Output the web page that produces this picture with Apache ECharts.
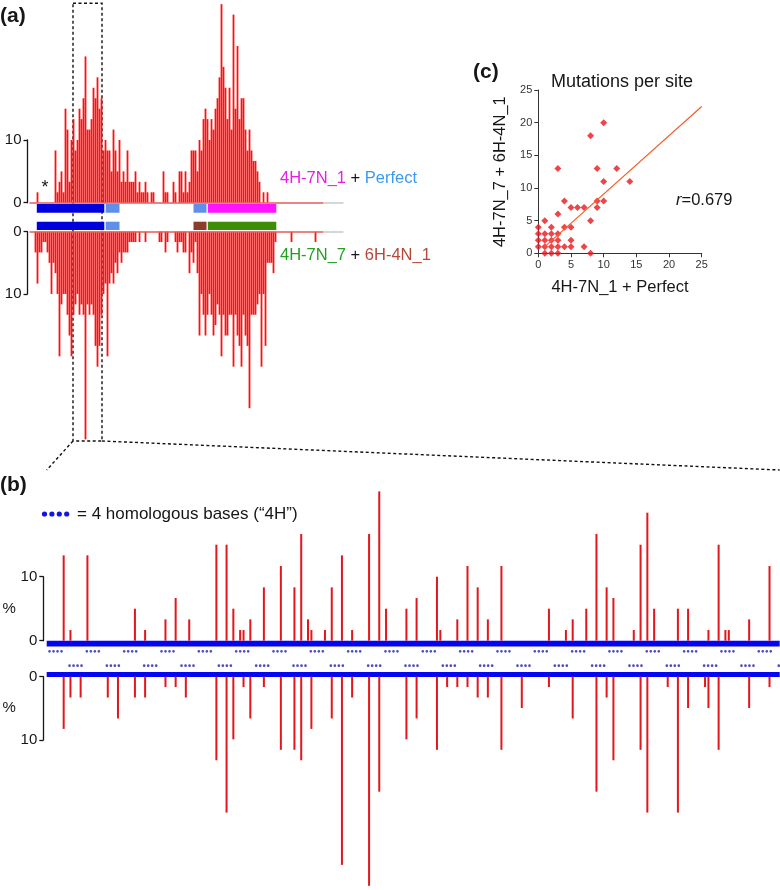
<!DOCTYPE html>
<html><head><meta charset="utf-8">
<script src="https://cdn.jsdelivr.net/npm/echarts@6/dist/echarts.min.js"></script>
<style>html,body{margin:0;padding:0;background:#fff}#c{width:780px;height:890px}</style>
</head><body><div id="c"></div>
<script>
// ---------- DATA ----------
// one mutation = 1/60 of the sequences = 1.667 %
const UNIT = 100 / 60;

// Panel (a): mutation counts per short window (bin) along the whole sequence
const aTopCounts = [0,1,0,0,0,0,0,0,0,0, 5,1,2,3,1,9,7,2,6,8, 5,6,9,8,10,14,7,7,8,11,
  10,12,9,10,5,6,5,5,3,7, 5,3,6,2,3,2,5,2,2,2, 3,1,2,1,1,2,1,0,1,1,
  0,0,0,0,3,1,1,0,0,2, 1,0,3,3,1,3,1,2,5,5, 5,3,6,5,8,9,8,6,8,7,
  9,10,12,19,13,11,8,11,7,18, 9,15,8,10,10,7,5,7,5,4, 4,3,2,0,1,0,1];
const aBotCounts = [2,5,2,2,1,1,2,3,6,3, 4,6,12,7,6,6,8,10,12,8, 7,6,8,7,8,20,7,8,7,8,
  11,13,11,8,6,5,12,5,4,5, 3,4,2,3,2,2,2,1,1,1, 1,0,1,0,0,1,0,0,0,0,
  0,0,1,1,0,2,1,0,0,0, 1,2,1,1,2,2,0,4,2,3, 1,4,10,6,8,10,8,6,8,10,
  9,7,8,12,8,10,10,8,8,13, 8,10,11,13,8,10,11,17,8,8, 8,7,6,13,6,11,3,3,3,4,
  1,0,0,0,0,0,0,0,1,0, 0,0,0,0,0,0,0,0,0,0, 1];
// sequence regions (bin units): start / end
const regionStart = [3.65, 38.1, 82, 89.15];
const regionEnd   = [37.4, 45, 88.5, 123.4];
const regionTopNames = ['4H', 'Perfect', 'Perfect', '4H-7N_1'];
const regionBotNames = ['4H', 'Perfect', '6H-4N_1', '4H-7N_7'];
const aSeqEnd = 147, aAxisEnd = 157;           // end of sequence / drawn axis (bins)
const zoomWindow = [21.75, 36.25];               // window enlarged in (b) (bins)

// Panel (b): per-site mutation counts inside the zoom window
const bTopSite  = [5,7,12,26,29,35,38,42,50,53,55,57,58,60,64,69,73,75,77,78,82,84,87,90,95,98,100,106,109,115,116,121,124,127,130,134,148,153,155,159,162,165,167,173,175,177,179,186,189,195,198,200,201,207,213];
const bTopCount = [8,1,8,3,1,2,4,2,9,9,3,1,1,2,5,7,5,10,2,1,1,5,8,1,10,14,3,3,4,6,1,2,7,5,2,7,3,1,2,3,10,5,4,1,9,12,3,3,3,1,9,1,1,2,7];
const bBotSite  = [5,7,10,18,21,26,29,35,38,41,50,53,55,58,60,64,69,73,75,78,84,87,90,95,98,106,109,115,118,121,124,127,130,134,140,148,155,162,165,167,175,177,183,186,189,194,195,198,207,213];
const bBotCount = [5,2,2,2,4,2,2,1,1,2,8,13,6,1,4,1,7,7,8,5,4,18,2,20,11,6,4,7,1,1,1,2,2,7,3,1,4,11,2,8,7,13,1,13,3,1,3,7,3,1];
const bSites = 216;
// centres of the "4H" homologous-base groups
const topHGroups = [2.6,13.6,24.6,35.6,46.6,57.6,68.6,79.6,90.6,101.6,112.6,123.6,134.6,145.6,156.6,167.6,178.6,189.6,200.6,211.6];
const botHGroups = [8.5,19.5,30.5,41.5,52.5,63.5,74.5,85.5,96.5,107.5,118.5,129.5,140.5,151.5,162.5,173.5,184.5,195.5,206.5,217.5];

// Panel (c): mutations per site
const cX = [10,8,3,9,12,10,14,4,9,10,5,6,7,9,3,1,8,0,2,4,5,0,1,2,3,0,1,2,3,5,0,1,2,3,4,5,7,1,2,3,8];
const cY = [20,18,13,13,13,11,11,8,8,8,7,7,7,7,6,5,5,4,4,4,4,3,3,3,3,2,2,2,2,2,1,1,1,1,1,1,1,0,0,0,0];
const fitSlope = 0.894, fitIntercept = 0.13, fitRange = [1, 25];
const rValue = '0.679';
const pctTicks = [0, 10];
const cTicks = [0, 5, 10, 15, 20, 25];

// ---------- STYLE ----------
const FONT = '"Liberation Sans", Arial, sans-serif';
const INK = '#161616';
const RED_A = '#ff1010';
const RED_B = '#e3161c';
const regionColor = {'4H':'#0000dc','Perfect':'#5f8fe8','4H-7N_1':'#ff14ff','4H-7N_7':'#3f8c06','6H-4N_1':'#8c3b2c'};

const chart = echarts.init(document.getElementById('c'));

const grids = [
  {left:29.5, top:2.06, width:314, height:210.7},
  {left:23.5, top:140, width:4, height:62.7},
  {left:29.5, top:221.7, width:314, height:221.8},
  {left:23.5, top:231.7, width:4, height:62.3},
  {left:46.7, top:487.1, width:733, height:167.68},
  {left:43.3, top:576.7, width:4, height:64},
  {left:46.7, top:664.04, width:733, height:227.88},
  {left:43.3, top:676.7, width:4, height:63.3},
  {left:538.3, top:90, width:163.4, height:163.3}
];

function hiddenX(g, max){ return {gridIndex:g, type:'value', min:0, max:max, show:false}; }
function hiddenY(g, min, max, inv){ return {gridIndex:g, type:'value', min:min, max:max, inverse:!!inv, show:false}; }
function bracket(g, inv){
  return {gridIndex:g, type:'value', min:pctTicks[0], max:pctTicks[1], interval:pctTicks[1]-pctTicks[0], inverse:inv,
    axisLine:{show:true, lineStyle:{color:INK, width:1.3}},
    axisTick:{show:true, length:4, lineStyle:{color:INK, width:1.3}},
    axisLabel:{fontSize:15, color:INK, margin:6, fontFamily:FONT},
    splitLine:{show:false},
    name:'%', nameLocation:'middle', nameGap:7, nameRotate:0,
    nameTextStyle:{fontSize:15, color:INK, fontFamily:FONT}};
}

const xAxes = [hiddenX(0,aAxisEnd), hiddenX(1,1), hiddenX(2,aAxisEnd), hiddenX(3,1),
  hiddenX(4,bSites), hiddenX(5,1), hiddenX(6,bSites), hiddenX(7,1),
  {gridIndex:8, type:'value', min:cTicks[0], max:cTicks[cTicks.length-1], interval:cTicks[1]-cTicks[0],
   axisLine:{show:true, onZero:false, lineStyle:{color:'#333', width:1}},
   axisTick:{show:true, length:4, lineStyle:{color:'#333'}},
   axisLabel:{fontSize:11, color:'#333', margin:6, fontFamily:FONT},
   splitLine:{show:false},
   name:'4H-7N_1 + Perfect', nameLocation:'middle', nameGap:26,
   nameTextStyle:{fontSize:16.5, color:INK, fontFamily:FONT}}];
const yAxes = [hiddenY(0,-1.6,32), bracket(1,false), hiddenY(2,-1.6,34,true), bracket(3,true),
  hiddenY(4,-2.2,24), bracket(5,false), hiddenY(6,-2,34,true), bracket(7,true),
  {gridIndex:8, type:'value', min:cTicks[0], max:cTicks[cTicks.length-1], interval:cTicks[1]-cTicks[0],
   axisLine:{show:true, onZero:false, lineStyle:{color:'#333', width:1}},
   axisTick:{show:true, length:4, lineStyle:{color:'#333'}},
   axisLabel:{fontSize:11, color:'#333', margin:6, fontFamily:FONT},
   splitLine:{show:false},
   name:'4H-7N_7 + 6H-4N_1', nameLocation:'middle', nameGap:29,
   nameTextStyle:{fontSize:16.5, color:INK, fontFamily:FONT}}];

const A_OFF = 3; // bin i is drawn at axis value i + A_OFF
function aData(counts){ return counts.map((c,i)=>[i + A_OFF, c*UNIT]).filter(d=>d[1]>0); }
function thinBar(width, color){
  return function(params, api){
    const p0 = api.coord([api.value(0), 0]);
    const p1 = api.coord([api.value(0), api.value(1)]);
    return {type:'rect', silent:true,
      shape:{x:p0[0]-width/2, y:Math.min(p0[1],p1[1]), width:width, height:Math.abs(p1[1]-p0[1])},
      style:{fill:color}};
  };
}
function baseline(){
  return {silent:true, symbol:['none','none'], label:{show:false},
    data:[
      [{coord:[0,0], lineStyle:{color:'#e85a5a', width:1.5, type:'solid'}}, {coord:[aSeqEnd,0]}],
      [{coord:[aSeqEnd,0], lineStyle:{color:'#c8c8c8', width:1.5, type:'solid'}}, {coord:[aAxisEnd,0]}]
    ]};
}
function regions(names, y1, y2){
  return {silent:true, label:{show:false},
    data: names.map((n,k)=>[{xAxis:regionStart[k], yAxis:y1, itemStyle:{color:regionColor[n]}}, {xAxis:regionEnd[k], yAxis:y2}])};
}
const dotPath = (function(){ const r=1.35, g=4; let p=''; for(let k=0;k<4;k++){ const cx=r+k*g; p+=`M${cx-r},${r}a${r},${r} 0 1,0 ${2*r},0a${r},${r} 0 1,0 ${-2*r},0Z`; } return 'path://'+p; })();

const series = [
  {type:'custom', xAxisIndex:0, yAxisIndex:0, data:aData(aTopCounts), renderItem:thinBar(1.8, RED_A),
   markLine:baseline(), markArea:regions(regionTopNames,-0.2,-1.6)},
  {type:'custom', xAxisIndex:2, yAxisIndex:2, data:aData(aBotCounts), renderItem:thinBar(1.8, RED_A),
   markLine:baseline(), markArea:regions(regionBotNames,-1.6,-0.27)},
  {type:'bar', xAxisIndex:4, yAxisIndex:4, barWidth:2, data:bTopSite.map((s,i)=>[s, bTopCount[i]*UNIT]),
   itemStyle:{color:RED_B},
   markArea:{silent:true, data:[[{xAxis:0, yAxis:0, itemStyle:{color:'#0505f5'}},{xAxis:bSites, yAxis:-0.9}]]}},
  {type:'bar', xAxisIndex:6, yAxisIndex:6, barWidth:2, data:bBotSite.map((s,i)=>[s, bBotCount[i]*UNIT]),
   itemStyle:{color:RED_B},
   markArea:{silent:true, data:[[{xAxis:0, yAxis:-0.72, itemStyle:{color:'#0505f5'}},{xAxis:bSites, yAxis:0.08}]]}},
  {type:'scatter', xAxisIndex:4, yAxisIndex:4, data:topHGroups.map(s=>[s,-1.66]), symbol:dotPath, symbolSize:[14.7,2.7],
   itemStyle:{color:'#1f1fb0'}, clip:false, silent:true},
  {type:'scatter', xAxisIndex:6, yAxisIndex:6, data:botHGroups.map(s=>[s,-1.74]), symbol:dotPath, symbolSize:[14.7,2.7],
   itemStyle:{color:'#1f1fb0'}, clip:false, silent:true},
  {type:'line', xAxisIndex:8, yAxisIndex:8, symbol:'none', silent:true,
   data:fitRange.map(x=>[x, fitSlope*x + fitIntercept]), lineStyle:{color:'#f0602a', width:1.2}},
  {type:'scatter', xAxisIndex:8, yAxisIndex:8, symbol:'diamond', symbolSize:7, clip:false,
   data:cX.map((x,i)=>[x, cY[i]]), itemStyle:{color:'#e8161b'}}
];

chart.setOption({animation:false, grid:grids, xAxis:xAxes, yAxis:yAxes, series:series});

// ---------- annotations ----------
function txt(x, y, text, extra){
  return Object.assign({type:'text', x:x, y:y, silent:true,
    style:Object.assign({text:text, fontFamily:FONT, fontSize:16.5, fill:INK, verticalAlign:'middle', align:'left'}, extra||{})});
}
const zx1 = chart.convertToPixel({gridIndex:0}, [zoomWindow[0], 0])[0];
const zx2 = chart.convertToPixel({gridIndex:0}, [zoomWindow[1], 0])[0];
const bL = chart.convertToPixel({gridIndex:4}, [0, 0])[0];
const bR = chart.convertToPixel({gridIndex:4}, [bSites, 0])[0];
const boxTop = 3.3, boxBot = 441, leadY = 470;
const dash = {stroke:'#111', lineWidth:1.4, lineDash:[3,2.5], fill:null};

const graphics = [
  txt(0, 16, '(a)', {fontSize:21, fontWeight:'bold'}),
  txt(0, 485, '(b)', {fontSize:21, fontWeight:'bold'}),
  txt(473, 72, '(c)', {fontSize:21, fontWeight:'bold'}),
  txt(45, 188.5, '*', {fontSize:18, align:'center'}),
  txt(280, 178, '{m|4H-7N_1} + {p|Perfect}', {rich:{m:{fill:'#e61ee6', fontSize:16.5, fontFamily:FONT}, p:{fill:'#3a9af0', fontSize:16.5, fontFamily:FONT}}}),
  txt(280, 255.5, '{g|4H-7N_7} + {b|6H-4N_1}', {rich:{g:{fill:'#22a022', fontSize:16.5, fontFamily:FONT}, b:{fill:'#b5473a', fontSize:16.5, fontFamily:FONT}}}),
  txt(622, 82, 'Mutations per site', {fontSize:18, align:'center'}),
  txt(676, 200.5, '{i|r}=' + rValue, {rich:{i:{fontStyle:'italic', fontSize:16.5, fontFamily:FONT, fill:INK}}}),
  txt(77, 514, '= 4 homologous bases (\u201c4H\u201d)', {fontSize:17}),
  {type:'rect', silent:true, shape:{x:zx1, y:boxTop, width:zx2-zx1, height:boxBot-boxTop}, style:dash},
  {type:'line', silent:true, shape:{x1:zx1, y1:boxBot, x2:bL, y2:leadY}, style:dash},
  {type:'line', silent:true, shape:{x1:zx2, y1:boxBot, x2:bR, y2:leadY}, style:dash}
];
[44.5, 51.9, 59.3, 66.7].forEach(cx => graphics.push({type:'circle', silent:true, shape:{cx:cx, cy:514, r:2.6}, style:{fill:'#1414e0'}}));

chart.setOption({graphic:graphics});
</script>
</body></html>
